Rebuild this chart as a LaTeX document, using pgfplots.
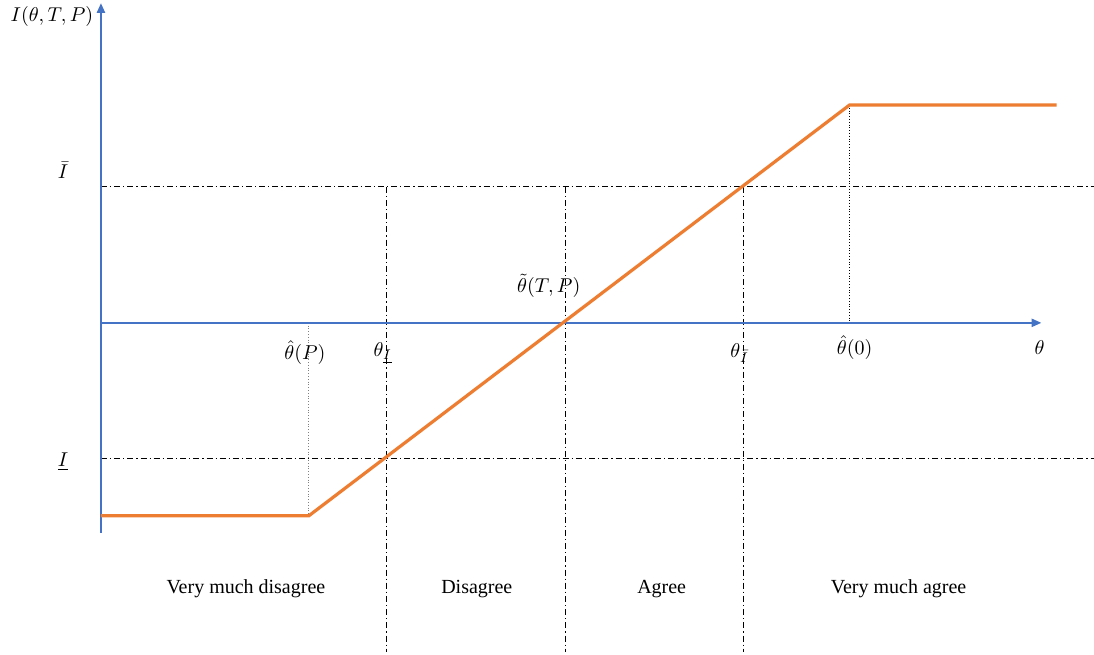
\documentclass[border=0pt]{standalone}
\usepackage{fontspec}
\setmainfont{Liberation Serif}
\usepackage{pgfplots}
\pgfplotsset{compat=1.18}
\usetikzlibrary{arrows.meta}

\definecolor{axblue}{HTML}{4472C4}
\definecolor{curve}{HTML}{ED7D31}

\begin{document}
\begin{tikzpicture}
\begin{axis}[
    x=0.5pt, y=0.5pt,
    xmin=0, xmax=1094,
    ymin=0, ymax=655,
    hide axis,
    clip=false,
    scale only axis,
]
\path (axis cs:0,0) rectangle (axis cs:1094,655);

% helper lines
\addplot[black, line width=0.5pt, dash pattern=on 3pt off 1.5pt on 0.6pt off 1.5pt, no marks] coordinates {(101,468) (1094,468)};
\addplot[black, line width=0.5pt, dash pattern=on 3pt off 1.5pt on 0.6pt off 1.5pt, no marks] coordinates {(101,196) (1094,196)};
\addplot[black, line width=0.5pt, dash pattern=on 3pt off 1.5pt on 0.6pt off 1.5pt, no marks] coordinates {(387,468) (387,3)};
\addplot[black, line width=0.5pt, dash pattern=on 3pt off 1.5pt on 0.6pt off 1.5pt, no marks] coordinates {(566,468) (566,3)};
\addplot[black, line width=0.5pt, dash pattern=on 3pt off 1.5pt on 0.6pt off 1.5pt, no marks] coordinates {(744,468) (744,3)};
\addplot[gray, line width=0.4pt, densely dotted, no marks] coordinates {(309,332) (309,139)};
\addplot[black, line width=0.4pt, densely dotted, no marks] coordinates {(850,550) (850,332)};

% axes
\addplot[axblue, line width=1.2pt, no marks, -{Triangle[length=5pt,width=4pt]}] coordinates {(101,122) (101,652)};
\addplot[axblue, line width=1.2pt, no marks, -{Triangle[length=5pt,width=4pt]}] coordinates {(101,332) (1042,332)};

% response curve
\addplot[curve, line width=1.6pt, no marks] coordinates {(101,139) (309,139) (850,550) (1057,550)};

% labels
\node at (axis cs:52,638) {$I(\theta,T,P)$};
\node at (axis cs:63,485) {$\bar{I}$};
\node at (axis cs:63,193) {$\underline{I}$};
\node at (axis cs:305,302) {$\hat{\theta}(P)$};
\node at (axis cs:383,302) {$\theta_{\underline{I}}$};
\node at (axis cs:549,369) {$\tilde{\theta}(T,P)$};
\node at (axis cs:740,302) {$\theta_{\bar{I}}$};
\node at (axis cs:855,307) {$\hat{\theta}(0)$};
\node at (axis cs:1040,307) {$\theta$};

\node at (axis cs:246,66) {Very much disagree};
\node at (axis cs:477,66) {Disagree};
\node at (axis cs:662,66) {Agree};
\node at (axis cs:899,66) {Very much agree};
\end{axis}
\end{tikzpicture}
\end{document}
